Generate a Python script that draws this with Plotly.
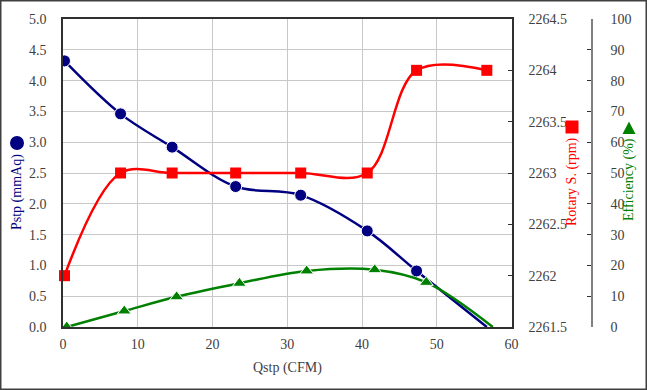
import plotly.graph_objects as go

# ---- data ----
q_flow = [0.2, 7.7, 14.6, 23.1, 31.8, 40.7, 47.3, 56.7]          # Qstp (CFM)
pstp = [4.32, 3.46, 2.92, 2.28, 2.14, 1.56, 0.91, 0.0]            # Pstp (mmAq)
rotary = [2262, 2263, 2263, 2263, 2263, 2263, 2264, 2264]          # Rotary S. (rpm)
q_eff = [0.5, 8.2, 15.2, 23.6, 32.6, 41.7, 48.6, 57.5]            # Qstp for efficiency
efficiency = [0.0, 5.2, 9.8, 14.2, 18.2, 18.6, 14.5, 0.0]         # Efficiency (%)

x_ticks = [0, 10, 20, 30, 40, 50, 60]

NAVY = "#000080"
RED = "#FF0000"
GREEN = "#008000"
FONT = "Liberation Serif"
TICKC = "#404040"
TICKFONT = dict(family=FONT, size=14, color=TICKC)

W_PX, H_PX = 647, 390
ML, MR, MT, MB = 63, 55, 19, 63
PW = W_PX - ML - MR
PH = H_PX - MT - MB
PLOT_R = 511.5


def px(x):
    return (x - ML) / PW


def py(y):
    return (H_PX - MB - y) / PH


fig = go.Figure()

n_p = len(pstp)
fig.add_trace(go.Scatter(
    x=q_flow, y=pstp, mode="lines+markers", name="Pstp",
    line=dict(color=NAVY, width=2.5, shape="spline", smoothing=1),
    marker=dict(symbol="circle", color=NAVY, opacity=1,
                size=[12] * (n_p - 1) + [0]),
    yaxis="y", cliponaxis=True,
))
fig.add_trace(go.Scatter(
    x=q_flow, y=rotary, mode="lines+markers", name="Rotary",
    line=dict(color=RED, width=2.5, shape="spline", smoothing=1),
    marker=dict(symbol="square", color=RED, size=11, opacity=1),
    yaxis="y2", cliponaxis=False,
))
n_e = len(efficiency)
fig.add_trace(go.Scatter(
    x=q_eff, y=efficiency, mode="lines+markers", name="Efficiency",
    line=dict(color=GREEN, width=2.5, shape="spline", smoothing=1),
    marker=dict(symbol="triangle-up", color=GREEN, opacity=1,
                size=[12] * (n_e - 1) + [0]),
    yaxis="y3", cliponaxis=True,
))

dom_r = (PLOT_R - ML) / PW

fig.update_layout(
    width=W_PX, height=H_PX,
    margin=dict(l=ML, r=MR, t=MT, b=MB, pad=0, autoexpand=False),
    paper_bgcolor="white", plot_bgcolor="white",
    showlegend=False,
    font=dict(family=FONT, size=14, color=TICKC),
    xaxis=dict(
        domain=[0, dom_r], range=[0, 60], tickvals=x_ticks,
        showgrid=True, gridcolor="#C8C8C8", gridwidth=1.3,
        showline=True, linecolor="#303030", linewidth=1.5, mirror=True,
        ticks="", zeroline=False, ticklabelstandoff=3, automargin=False,
        tickfont=TICKFONT,
    ),
    yaxis=dict(
        range=[0, 5], dtick=0.5, tickformat=".1f",
        showgrid=True, gridcolor="#C8C8C8", gridwidth=1.3,
        showline=True, linecolor="#303030", linewidth=1.5, mirror=True,
        ticks="", zeroline=False, ticklabelstandoff=12, automargin=False,
        tickfont=TICKFONT,
    ),
    yaxis2=dict(
        range=[2261.5, 2264.5], dtick=0.5, tickformat=".1~f",
        overlaying="y", side="right",
        anchor="x", showgrid=False, showline=False, zeroline=False,
        ticks="inside", ticklen=4, tickcolor="#303030",
        ticklabelstandoff=16, automargin=False, tickfont=TICKFONT,
    ),
    yaxis3=dict(
        range=[0, 100], dtick=10, overlaying="y", side="right",
        anchor="free", position=1.0, showgrid=False,
        showline=True, linecolor="#808080", linewidth=1.5, zeroline=False,
        ticks="inside", ticklen=4, tickcolor="#303030",
        ticklabelstandoff=15, automargin=False, tickfont=TICKFONT,
    ),
)

annots = [
    dict(text="Pstp (mmAq)", x=px(17), y=py(192), color=NAVY, angle=-90),
    dict(text="Rotary S. (rpm)", x=px(572), y=py(182), color=RED, angle=-90),
    dict(text="Efficiency (%)", x=px(629), y=py(180), color=GREEN, angle=-90),
    dict(text="Qstp (CFM)", x=px(287), y=py(368), color=TICKC, angle=0),
]
for a in annots:
    fig.add_annotation(
        text=a["text"], x=a["x"], y=a["y"], xref="paper", yref="paper",
        xanchor="center", yanchor="middle", showarrow=False,
        textangle=a["angle"], font=dict(family=FONT, size=14, color=a["color"]),
    )

# legend-like symbols next to the axis titles
fig.add_shape(type="circle", xref="paper", yref="paper",
              xsizemode="pixel", ysizemode="pixel",
              xanchor=px(17), yanchor=py(143),
              x0=-7, x1=7, y0=-7, y1=7,
              fillcolor=NAVY, line=dict(width=0))
fig.add_shape(type="rect", xref="paper", yref="paper",
              xsizemode="pixel", ysizemode="pixel",
              xanchor=px(572), yanchor=py(127),
              x0=-6.5, x1=6.5, y0=-6.5, y1=6.5,
              fillcolor=RED, line=dict(width=0))
fig.add_shape(type="path", xref="paper", yref="paper",
              xsizemode="pixel", ysizemode="pixel",
              xanchor=px(629), yanchor=py(128),
              path="M -6.5,-6 L 6.5,-6 L 0,6.5 Z",
              fillcolor=GREEN, line=dict(width=0))

# outer frame of the picture
fig.add_shape(type="rect", xref="paper", yref="paper",
              x0=px(0.75), x1=px(646.25), y0=py(389.25), y1=py(0.75),
              line=dict(color="#404040", width=1.5), fillcolor="rgba(0,0,0,0)")

fig.write_html("out.html",
               config={"displayModeBar": False},
               post_script="document.body.style.margin='0px';"
                           "document.body.style.overflow='hidden';")
